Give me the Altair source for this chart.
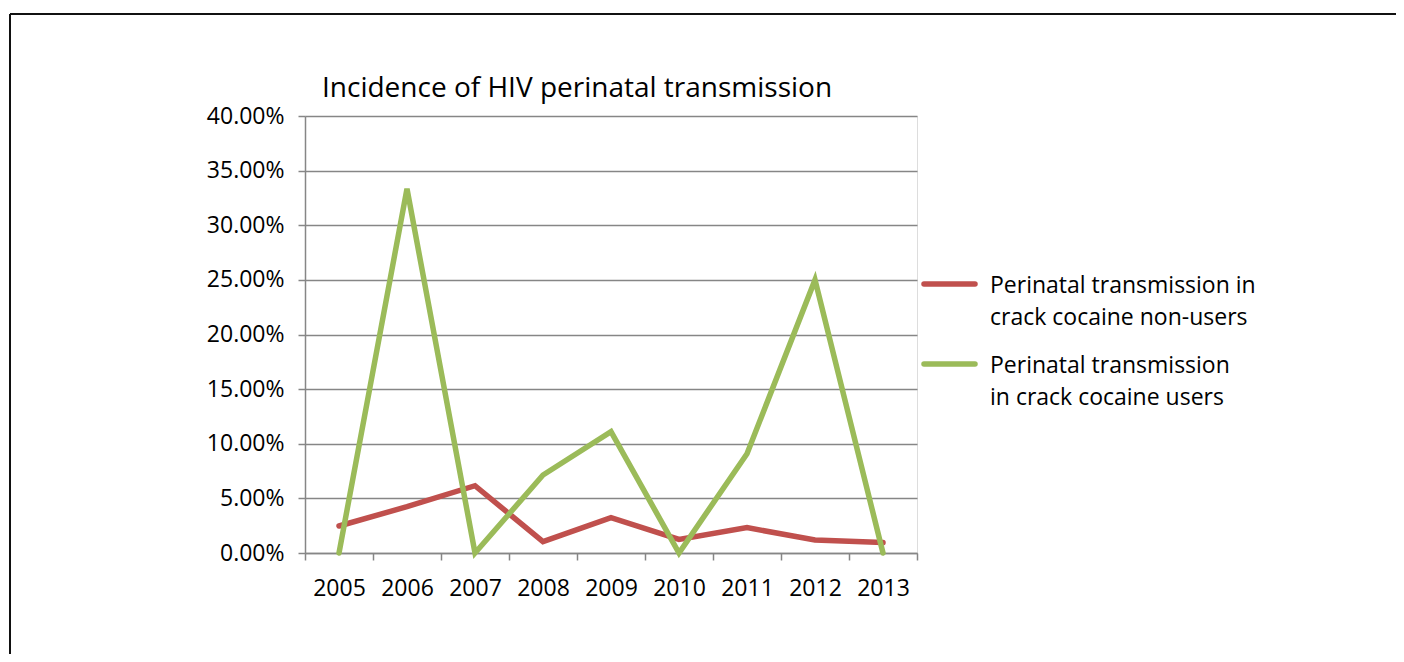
import altair as alt
import pandas as pd

years = ["2005", "2006", "2007", "2008", "2009", "2010", "2011", "2012", "2013"]
series_names = ["Perinatal transmission in crack cocaine non-users",
                "Perinatal transmission in crack cocaine users"]
legend_labels = ["Perinatal transmission in\ncrack cocaine non-users",
                 "Perinatal transmission\nin crack cocaine users"]
non_users = [0.0247, 0.0424, 0.0616, 0.0104, 0.0323, 0.0125, 0.0232, 0.0119, 0.0095]
users = [0.0, 0.3333, 0.0, 0.0714, 0.1111, 0.0, 0.0909, 0.25, 0.0]
y_ticks = [0, 0.05, 0.10, 0.15, 0.20, 0.25, 0.30, 0.35, 0.40]
title_text = "Incidence of HIV perinatal transmission"
colors = ["#C0504D", "#9BBB59"]

FONT = "Open Sans"
W, H = 612, 437

rows = []
for name, vals in zip(series_names, [non_users, users]):
    for yr, v in zip(years, vals):
        rows.append({"year": yr, "series": name, "value": v})
df = pd.DataFrame(rows)

color_scale = alt.Scale(domain=series_names, range=colors)

lines = alt.Chart(df).mark_line(strokeWidth=5.5, strokeJoin="miter", strokeCap="round").encode(
    x=alt.X("year:O", bandPosition=0.5, sort=years,
            scale=alt.Scale(type="band", paddingInner=0, paddingOuter=0),
            axis=alt.Axis(title=None, labelAngle=0, tickBand="extent", tickSize=7,
                          labelPadding=17, labelFontSize=23, labelFont=FONT,
                          labelColor="#000", domainColor="#868686", tickColor="#868686",
                          domainWidth=1.5, tickWidth=1.5, grid=False)),
    y=alt.Y("value:Q", scale=alt.Scale(domain=[0, 0.4], nice=False),
            axis=alt.Axis(title=None, values=y_ticks, format=".2%", tickSize=7,
                          labelPadding=14, labelFontSize=23, labelFont=FONT,
                          labelColor="#000", domainColor="#868686", tickColor="#868686",
                          gridColor="#868686", gridWidth=1.5,
                          domainWidth=1.5, tickWidth=1.5, grid=True)),
    color=alt.Color("series:N", scale=color_scale, legend=None),
)

layers = [lines]
leg_y = [168, 248]
for name, lab, yy in zip(series_names, legend_labels, leg_y):
    ldf = pd.DataFrame({"series": [name], "label": [lab]})
    layers.append(alt.Chart(ldf).mark_rule(strokeWidth=5.5, strokeCap="round").encode(
        x=alt.value(619), x2=alt.value(670), y=alt.value(yy),
        color=alt.Color("series:N", scale=color_scale, legend=None)))
    layers.append(alt.Chart(ldf).mark_text(align="left", baseline="middle", fontSize=23,
                                           font=FONT, color="#000", lineBreak="\n",
                                           lineHeight=32).encode(
        x=alt.value(685), y=alt.value(yy + 2), text="label:N"))

tdf = pd.DataFrame({"t": [title_text]})
layers.append(alt.Chart(tdf).mark_text(align="left", baseline="middle", fontSize=28,
                                       font=FONT, color="#000").encode(
    x=alt.value(17), y=alt.value(-27), text="t:N"))

# outer frame (decoration)
fdf = pd.DataFrame({"a": [0]})
layers.append(alt.Chart(fdf).mark_rule(color="#111", strokeWidth=2).encode(
    x=alt.value(-295), x2=alt.value(1200), y=alt.value(-102)))
layers.append(alt.Chart(fdf).mark_rule(color="#111", strokeWidth=2).encode(
    x=alt.value(-295), y=alt.value(-102), y2=alt.value(700)))

chart = alt.layer(*layers).properties(
    width=W, height=H,
    autosize=alt.AutoSizeParams(type="none"),
    padding={"left": 297, "top": 108, "right": 479, "bottom": 101},
).configure_view(stroke=None).configure(background="white")

chart.save("out.html", embed_options={"renderer": "svg", "actions": False})
